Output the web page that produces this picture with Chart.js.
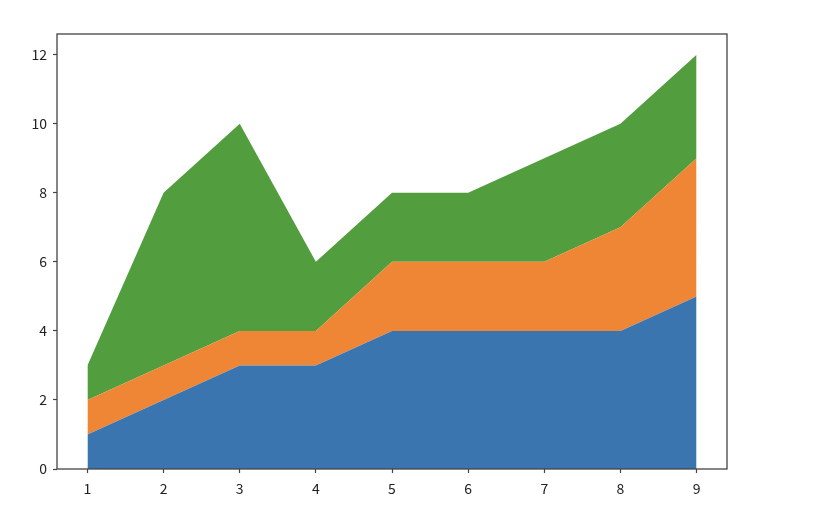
<!DOCTYPE html>
<html lang="en">
<head>
    <meta charset="UTF-8">
    <title>Stack plot</title>
    <script src="https://cdn.jsdelivr.net/npm/chart.js"></script>
    <style>
        html, body { margin: 0; padding: 0; background: #fff; }
        canvas { display: block; }
    </style>
</head>
<body>
<canvas id="stackChart" width="824" height="532"></canvas>

<script>
    // data
    const xValues = [1, 2, 3, 4, 5, 6, 7, 8, 9];
    const blueValues = [1, 2, 3, 3, 4, 4, 4, 4, 5];
    const orangeValues = [1, 1, 1, 1, 2, 2, 2, 3, 4];
    const greenValues = [1, 5, 6, 2, 2, 2, 3, 3, 3];
    const yTicks = [0, 2, 4, 6, 8, 10, 12];

    const seriesColors = ['#3a75af', '#ef8636', '#529e3e'];

    function toPoints(values) {
        return xValues.map((x, i) => ({ x: x, y: values[i] }));
    }

    // frame around the plot area, like matplotlib's spines
    const framePlugin = {
        id: 'frame',
        afterDraw(chart) {
            const a = chart.chartArea;
            const ctx = chart.ctx;
            ctx.save();
            ctx.strokeStyle = '#444';
            ctx.lineWidth = 1.3;
            ctx.strokeRect(a.left, a.top, a.right - a.left, a.bottom - a.top);
            ctx.restore();
        }
    };

    const tickFont = { family: 'Noto Sans CJK SC', size: 14 };

    const ctx = document.getElementById('stackChart').getContext('2d');
    new Chart(ctx, {
        type: 'line',
        data: {
            datasets: [
                { data: toPoints(blueValues), backgroundColor: seriesColors[0], fill: 'origin' },
                { data: toPoints(orangeValues), backgroundColor: seriesColors[1], fill: '-1' },
                { data: toPoints(greenValues), backgroundColor: seriesColors[2], fill: '-1' }
            ].map(d => Object.assign(d, {
                borderWidth: 0,
                pointRadius: 0,
                tension: 0
            }))
        },
        options: {
            responsive: false,
            animation: false,
            layout: { padding: { top: 34, right: 97, left: 0, bottom: 0 } },
            plugins: {
                legend: { display: false },
                tooltip: { enabled: false }
            },
            scales: {
                x: {
                    type: 'linear',
                    min: 0.6,
                    max: 9.4,
                    afterBuildTicks: (scale) => { scale.ticks = xValues.map(v => ({ value: v })); },
                    afterFit: (scale) => { scale.height = 63; },
                    grid: { drawOnChartArea: false, tickLength: 4, color: '#444', tickWidth: 1.2 },
                    border: { display: false },
                    ticks: { color: '#222', font: tickFont, padding: 7 }
                },
                y: {
                    stacked: true,
                    min: 0,
                    max: 12.6,
                    afterBuildTicks: (scale) => { scale.ticks = yTicks.map(v => ({ value: v })); },
                    afterFit: (scale) => { scale.width = 57; },
                    grid: { drawOnChartArea: false, tickLength: 4, color: '#444', tickWidth: 1.2 },
                    border: { display: false },
                    ticks: { color: '#222', font: tickFont, padding: 6 }
                }
            }
        },
        plugins: [framePlugin]
    });
</script>
</body>
</html>
